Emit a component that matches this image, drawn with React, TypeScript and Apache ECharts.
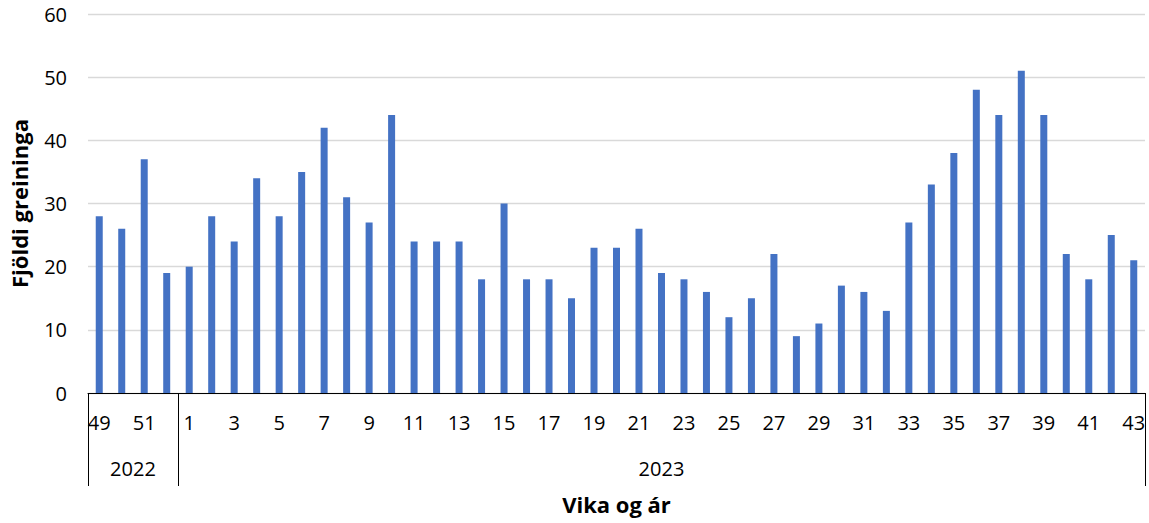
import React, { useEffect, useRef } from "react";
import * as echarts from "echarts";

const weeks: string[] = [
  "49", "50", "51", "52",
  "1", "2", "3", "4", "5", "6", "7", "8", "9", "10",
  "11", "12", "13", "14", "15", "16", "17", "18", "19", "20",
  "21", "22", "23", "24", "25", "26", "27", "28", "29", "30",
  "31", "32", "33", "34", "35", "36", "37", "38", "39", "40",
  "41", "42", "43",
];

const counts: number[] = [
  28, 26, 37, 19,
  20, 28, 24, 34, 28, 35, 42, 31, 27, 44,
  24, 24, 24, 18, 30, 18, 18, 15, 23, 23,
  26, 19, 18, 16, 12, 15, 22, 9, 11, 17,
  16, 13, 27, 33, 38, 48, 44, 51, 44, 22,
  18, 25, 21,
];

const years: string[] = ["2022", "2023"];
const yearWeekCounts: number[] = [4, 43];

const yTicks: number[] = [0, 10, 20, 30, 40, 50, 60];

const FONT = "'Open Sans', 'Noto Sans', sans-serif";

export default function App() {
  const ref = useRef<HTMLDivElement>(null);

  useEffect(() => {
    if (!ref.current) return;
    const chart = echarts.init(ref.current, undefined, { renderer: "svg" });

    const starts: number[] = [];
    let acc = 0;
    yearWeekCounts.forEach((c) => {
      starts.push(acc);
      acc += c;
    });
    const centers: number[] = yearWeekCounts.map((c, i) => starts[i] + c / 2);

    chart.setOption({
      animation: false,
      textStyle: { fontFamily: FONT },
      grid: { left: 88, right: 4, top: 14, bottom: 130, containLabel: false },
      xAxis: [
        {
          type: "category",
          data: weeks,
          boundaryGap: true,
          axisLine: { show: true, lineStyle: { color: "#000", width: 1 } },
          axisTick: {
            show: true,
            length: 93,
            lineStyle: { color: "#000", width: 1 },
            interval: (index: number) => starts.includes(index),
          },
          axisLabel: {
            interval: 1,
            color: "#000",
            fontSize: 20,
            fontFamily: FONT,
            margin: 19,
          },
          splitLine: { show: false },
          name: "Vika og ár",
          nameLocation: "middle",
          nameGap: 100,
          nameTextStyle: {
            color: "#000",
            fontSize: 22,
            fontWeight: "bold",
            fontFamily: FONT,
          },
        },
        {
          type: "value",
          position: "bottom",
          min: 0,
          max: weeks.length,
          interval: 0.5,
          axisLine: { show: false },
          axisTick: { show: false },
          splitLine: { show: false },
          axisLabel: {
            show: true,
            color: "#000",
            fontSize: 20,
            fontFamily: FONT,
            margin: 65,
            showMinLabel: true,
            showMaxLabel: true,
            formatter: (v: number) => {
              const idx = centers.findIndex((c) => Math.abs(c - v) < 1e-6);
              return idx >= 0 ? years[idx] : "";
            },
          },
        },
      ],
      yAxis: {
        type: "value",
        min: yTicks[0],
        max: yTicks[yTicks.length - 1],
        interval: yTicks[1] - yTicks[0],
        axisLine: { show: false },
        axisTick: { show: false },
        axisLabel: {
          color: "#000",
          fontSize: 20,
          fontFamily: FONT,
          margin: 21,
        },
        splitLine: { show: true, lineStyle: { color: "#d9d9d9", width: 1.3 } },
        name: "Fjöldi greininga",
        nameLocation: "middle",
        nameGap: 58,
        nameTextStyle: {
          color: "#000",
          fontSize: 22,
          fontWeight: "bold",
          fontFamily: FONT,
        },
      },
      series: [
        {
          type: "bar",
          xAxisIndex: 0,
          data: counts,
          barWidth: 7,
          itemStyle: { color: "#4472c4" },
        },
      ],
    });

    return () => {
      chart.dispose();
    };
  }, []);

  return (
    <div
      ref={ref}
      style={{ position: "fixed", left: 0, top: 0, width: 1149, height: 523, background: "#fff" }}
    />
  );
}
